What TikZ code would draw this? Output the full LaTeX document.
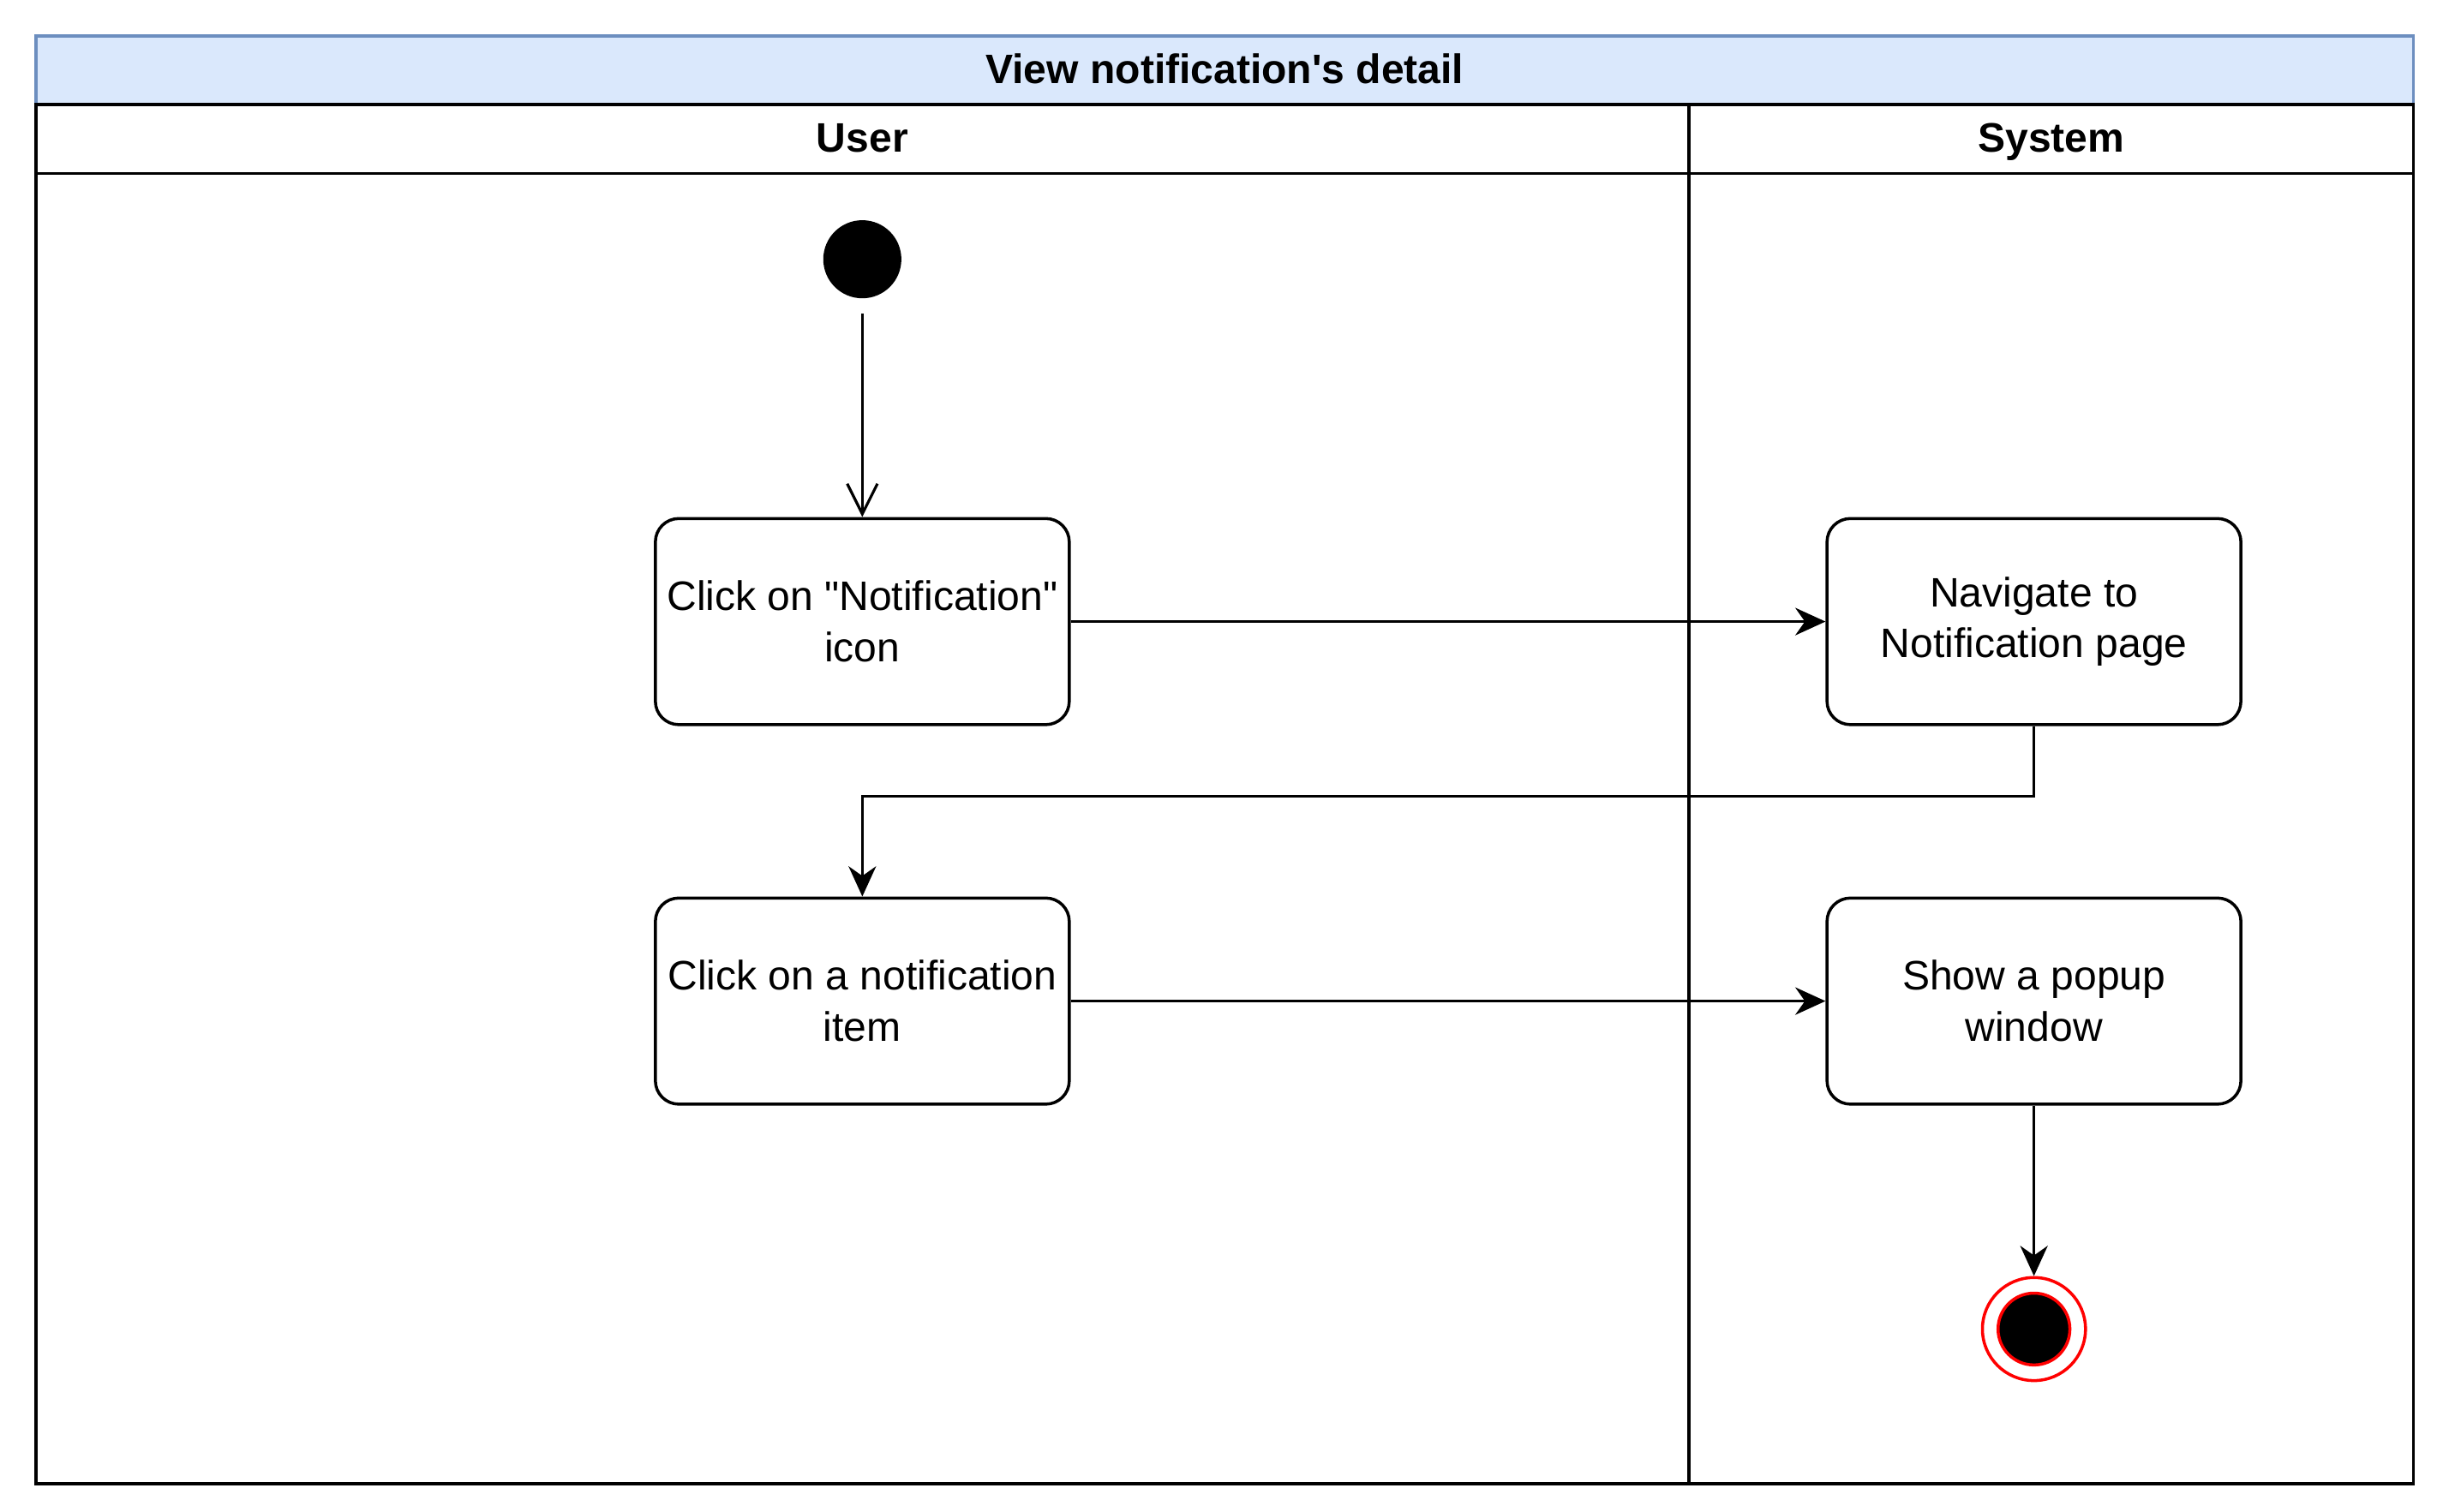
\documentclass[tikz,border=0pt]{standalone}
\usepackage{fontspec}
\setmainfont{Liberation Sans}[Ligatures=TeXOff]
\usetikzlibrary{arrows.meta}

\begin{document}
\begin{tikzpicture}[x=0.02cm, y=-0.02cm, line width=1.1pt,
  font=\fontsize{15}{18.7}\selectfont,
  act/.style={draw, rounded corners=0.3cm, minimum width=5.3cm, minimum height=2.64cm, align=center, inner sep=0pt},
  flow/.style={-{Stealth[length=11pt,width=10pt,inset=3.5pt]}},
  lane/.style={font=\fontsize{15}{18}\selectfont\bfseries, anchor=base}]

\useasboundingbox (0,0) rectangle (1560,967.6);

\fill[fill={rgb,255:red,218;green,232;blue,252}] (23,23) rectangle (1545,67);
\draw[draw={rgb,255:red,108;green,142;blue,191}] (23,67) -- (23,23) -- (1545,23) -- (1545,67);
\draw (23,67) rectangle (1545,950);
\draw (23,111) -- (1545,111);
\draw (1081,67) -- (1081,950);

\node[lane] (title) at (784,53.5) {View notification's detail};
\node[lane] (user) at (552,97.5) {User};
\node[lane] (system) at (1313,97.5) {System};

\node[circle, fill=black, minimum size=1cm, inner sep=0pt] (start) at (552,166) {};
\node[act] (clickicon) at (552,398) {Click on "Notification"\\icon};
\node[act] (navigate) at (1302,398) {Navigate to\\Notification page};
\node[act] (clickitem) at (552,641) {Click on a notification\\item};
\node[act] (popup) at (1302,641) {Show a popup\\window};
\node[circle, draw=red, line width=1.1pt, minimum size=1.32cm, inner sep=0pt] (end) at (1302,851) {};
\node[circle, draw=red, fill=black, line width=1.1pt, minimum size=0.92cm, inner sep=0pt] (endin) at (1302,851) {};

\draw[line width=1pt, -{Straight Barb[length=11pt,width=11pt]}, shorten <=5pt] (start) -- (clickicon.north);
\draw[flow] (clickicon.east) -- (navigate.west);
\draw[flow] (navigate.south) -- ++(0,45) -| (clickitem.north);
\draw[flow] (clickitem.east) -- (popup.west);
\draw[flow] (popup.south) -- (end.north);

\end{tikzpicture}
\end{document}
